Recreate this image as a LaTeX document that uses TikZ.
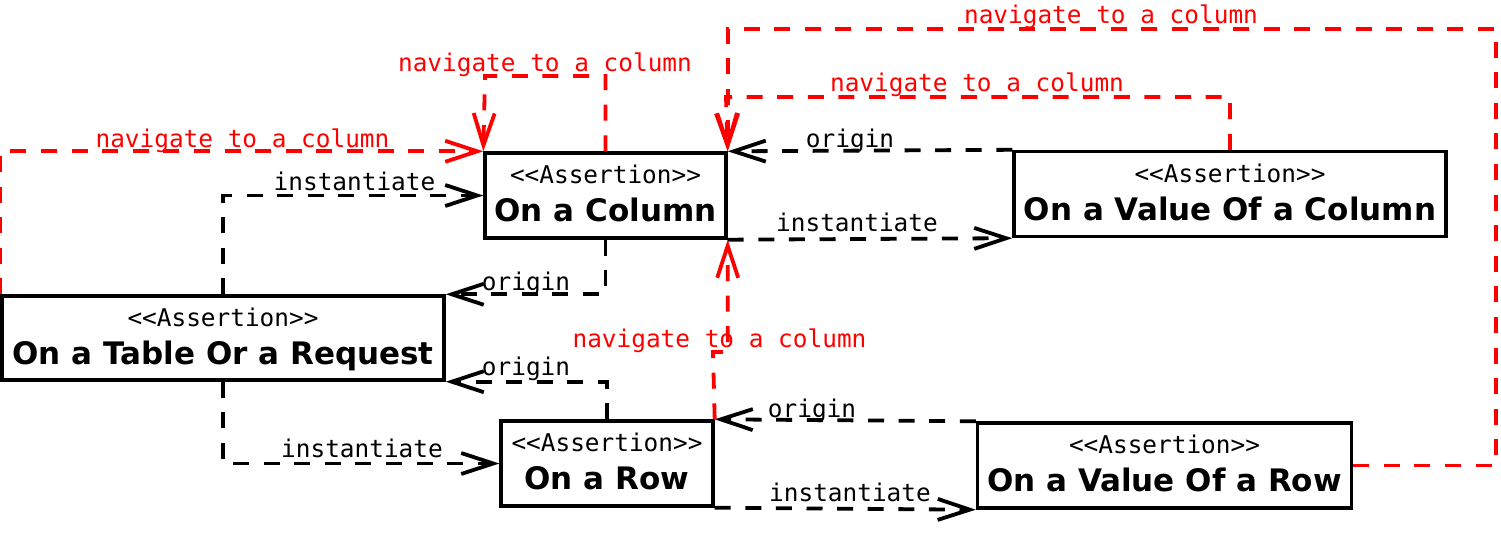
\documentclass[tikz,border=0pt]{standalone}
\usepackage{fontspec}
\setmainfont{DejaVu Sans}
\newfontfamily\monof{DejaVu Sans Mono}
\usetikzlibrary{arrows.meta}
\definecolor{navred}{RGB}{255,0,0}
\begin{document}
\begin{tikzpicture}[x=0.5pt,y=-0.5pt,
  umlbox/.style={draw,line width=1.7pt,inner sep=0pt},
  stereo/.style={anchor=base,inner sep=0pt,font=\monof\fontsize{12.2}{14}\selectfont},
  cname/.style={anchor=base,inner sep=0pt,font=\bfseries\fontsize{15.5}{18}\selectfont},
  dep/.style={line width=1.9pt,dash pattern=on 8pt off 7.3pt,-{Straight Barb[length=16pt,width=10.5pt,line width=1.9pt]}},
  nav/.style={dep,draw=navred},
  lbl/.style={anchor=base,inner sep=0pt,font=\monof\fontsize{12.2}{14}\selectfont},
  navlbl/.style={lbl,text=navred},
]
\useasboundingbox (0,0) rectangle (1501,541);

% boxes
\node[umlbox,minimum width=120.5pt,minimum height=42.5pt] (col) at (605.5,195.5) {};
\node[umlbox,minimum width=221pt,minimum height=42pt] (tab) at (223,338) {};
\node[umlbox,minimum width=106pt,minimum height=42.5pt] (row) at (607,463.5) {};
\node[umlbox,minimum width=216pt,minimum height=42.5pt] (vcol) at (1230,194) {};
\node[umlbox,minimum width=187pt,minimum height=42.5pt] (vrow) at (1164.5,465.5) {};

% box texts
\foreach \b/\t in {col/On a Column,tab/On a Table Or a Request,row/On a Row,vcol/On a Value Of a Column,vrow/On a Value Of a Row}{
  \node[stereo] (\b-st) at ([yshift=6pt]\b.center) {<<Assertion>>};
  \node[cname] (\b-nm) at ([yshift=-13pt]\b.center) {\t};
}

% helper coordinates
\coordinate (loopc) at (485,76);
\coordinate (vcolc) at (726,97);
\coordinate (topc) at (1496,29);
\coordinate (rowc) at (713,352);

% black dependencies
\draw[dep] (tab.north) |- (col.west);
\draw[dep] (col.south) |- (tab.north east);
\draw[dep] (tab.south) |- (row.west);
\draw[dep] (row.north) |- (tab.south east);
\draw[dep] (vcol.north west) -- (col.north east);
\draw[dep] (col.south east) -- (vcol.south west);
\draw[dep] (vrow.north west) -- (row.north east);
\draw[dep] (row.south east) -- (vrow.south west);

% red navigations
\draw[nav] (tab.north west) |- (col.north west);
\draw[nav] (col.north) |- (loopc) -- (col.north west);
\draw[nav] (vcol.north) |- (vcolc) -- (col.north east);
\draw[nav] (vrow.east) -| (topc) -| (col.north east);
\draw[nav] (row.north east) -- (rowc) -| (col.south east);

% labels
\node[lbl] (l1) at (354.5,190) {instantiate};
\node[lbl] (l2) at (526,290) {origin};
\node[lbl] (l3) at (362,457) {instantiate};
\node[lbl] (l4) at (526,375) {origin};
\node[lbl] (l5) at (850,147) {origin};
\node[lbl] (l6) at (857,231) {instantiate};
\node[lbl] (l7) at (812,417) {origin};
\node[lbl] (l8) at (850,501) {instantiate};
\node[navlbl] (n1) at (242.5,147) {navigate to a column};
\node[navlbl] (n2) at (545,71) {navigate to a column};
\node[navlbl] (n3) at (977,91) {navigate to a column};
\node[navlbl] (n4) at (1111,23) {navigate to a column};
\node[navlbl] (n5) at (719.5,347) {navigate to a column};
\end{tikzpicture}
\end{document}
